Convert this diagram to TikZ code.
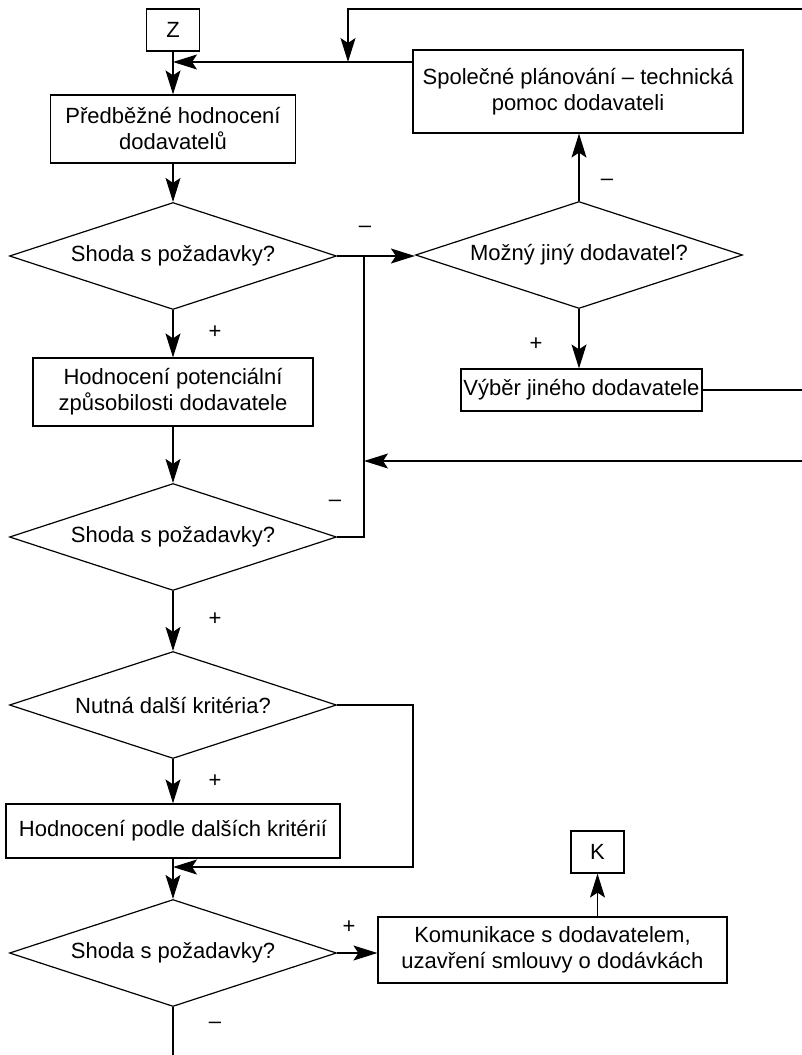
\documentclass[tikz,border=0pt]{standalone}
\usepackage{fontspec}
\setmainfont{Liberation Sans}
\usetikzlibrary{arrows.meta,shapes.geometric}
\begin{document}
\begin{tikzpicture}[x=1pt,y=-1pt,
  every node/.style={font=\fontsize{22}{26}\selectfont},
  line/.style={line width=1.2pt},
  arr/.style={line, -{Stealth[length=24pt,width=15pt,inset=5pt]}},
  box/.style={draw, line width=1.2pt, align=center, inner sep=0pt},
  decision/.style={draw, line width=1.2pt, shape=diamond, aspect=3, inner sep=0pt,
    minimum width=327pt, minimum height=107pt, align=center},
  sign/.style={inner sep=0pt}]
\useasboundingbox (0,0) rectangle (802,1055);

% main column
\node[box, minimum width=53pt, minimum height=42pt] (Z) at (173,30) {Z};
\node[box, minimum width=245pt, minimum height=68pt] (pre) at (173,129) {Předběžné hodnocení\\dodavatelů};
\node[decision] (d1) at (173,256) {Shoda s požadavky?};
\node[box, minimum width=280pt, minimum height=68pt] (pot) at (173,392) {Hodnocení potenciální\\způsobilosti dodavatele};
\node[decision] (d3) at (173,537) {Shoda s požadavky?};
\node[decision] (d4) at (173,705) {Nutná další kritéria?};
\node[box, minimum width=334pt, minimum height=54pt] (dal) at (173,831) {Hodnocení podle dalších kritérií};
\node[decision] (d5) at (173,953) {Shoda s požadavky?};

% right column
\node[box, minimum width=330pt, minimum height=83pt] (spol) at (578,91.5) {Společné plánování – technická\\pomoc dodavateli};
\node[decision] (d2) at (579,255) {Možný jiný dodavatel?};
\node[box, minimum width=241pt, minimum height=42pt] (vyb) at (581.5,390) {Výběr jiného dodavatele};
\node[box, minimum width=349pt, minimum height=66pt] (kom) at (552.5,950) {Komunikace s dodavatelem,\\uzavření smlouvy o dodávkách};
\node[box, minimum width=53pt, minimum height=42pt] (K) at (597.5,852) {K};

% helper points
\coordinate (jtop) at (173,62);
\coordinate (rtop) at (802,9);
\coordinate (ldrop) at (348,62);
\coordinate (jmid) at (364,256);
\coordinate (rlow) at (802,461);
\coordinate (rvyb) at (802,390);
\coordinate (loop) at (413,867);
\coordinate (bottom) at (173,1055);

% connectors
\draw[arr] (Z.south) -- (pre.north);
\draw[arr] (spol.west |- jtop) -- (jtop);
\draw[arr] (rtop) -| (ldrop);
\draw[arr] (pre.south) -- (d1.north);
\draw[arr] (d1.east) -- (d1.east -| d2.west);
\draw[arr] (d2.north) -- (d2.north |- spol.south);
\draw[arr] (d2.south) -- (d2.south |- vyb.north);
\draw[line] (vyb.east) -- (rvyb);
\draw[arr] (rlow) -- (rlow -| jmid);
\draw[line] (d3.east) -| (jmid);
\draw[arr] (d1.south) -- (pot.north);
\draw[arr] (pot.south) -- (d3.north);
\draw[arr] (d3.south) -- (d4.north);
\draw[arr] (d4.south) -- (dal.north);
\draw[arr] (d4.east) -| (loop) -- (loop -| d4.south);
\draw[arr] (dal.south) -- (d5.north);
\draw[arr] (d5.east) -- (d5.east -| kom.west);
\draw[arr] (K.south |- kom.north) -- (K.south);
\draw[line] (d5.south) -- (bottom);

% branch signs
\node[sign] (s1) at (365,229) {–};
\node[sign] (s2) at (607,182) {–};
\node[sign] (s3) at (536,344) {+};
\node[sign] (s4) at (215,332) {+};
\node[sign] (s5) at (335,503) {–};
\node[sign] (s6) at (215,619) {+};
\node[sign] (s7) at (215,781) {+};
\node[sign] (s8) at (349,927) {+};
\node[sign] (s9) at (215,1025) {–};
\end{tikzpicture}
\end{document}
